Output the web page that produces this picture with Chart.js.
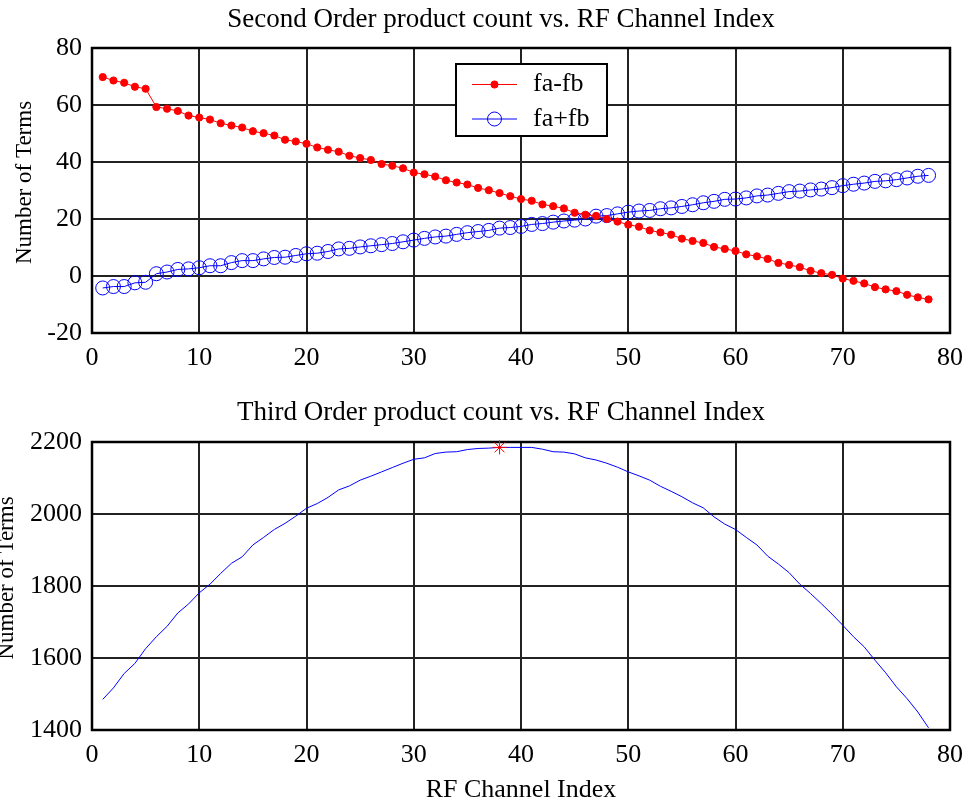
<!DOCTYPE html>
<html>
<head>
<meta charset="utf-8">
<title>Product count vs. RF Channel Index</title>
<script src="https://cdn.jsdelivr.net/npm/chart.js@4.4.1/dist/chart.umd.min.js"></script>
<style>
  html, body { margin: 0; padding: 0; background: #fff; overflow: hidden; }
  #secondOrder { position: absolute; left: 0; top: 0; }
  #thirdOrder { position: absolute; left: 0; top: 375px; }
</style>
</head>
<body>
<canvas id="secondOrder" width="973" height="375"></canvas>
<canvas id="thirdOrder" width="973" height="440"></canvas>
<script>
// DATA
const channels = [
  1, 2, 3, 4, 5, 6, 7, 8, 9, 10, 11, 12, 13, 14, 15, 16, 17, 18, 19, 20,
  21, 22, 23, 24, 25, 26, 27, 28, 29, 30, 31, 32, 33, 34, 35, 36, 37, 38, 39, 40,
  41, 42, 43, 44, 45, 46, 47, 48, 49, 50, 51, 52, 53, 54, 55, 56, 57, 58, 59, 60,
  61, 62, 63, 64, 65, 66, 67, 68, 69, 70, 71, 72, 73, 74, 75, 76, 77, 78
];

// fa-fb
const diffTerms = [
  69.8, 68.6, 67.8, 66.4, 65.7, 59.3, 58.7, 57.9, 56.3, 55.6,
  54.9, 53.6, 52.8, 52.1, 50.8, 50.1, 49.3, 47.8, 47.2, 46.4,
  45.1, 44.3, 43.6, 42.2, 41.4, 40.7, 39.3, 38.7, 37.8, 36.3,
  35.7, 34.9, 33.6, 32.8, 32.1, 30.9, 30.1, 29.1, 28.0, 27.0,
  26.4, 25.1, 24.5, 23.7, 22.2, 21.5, 21.1, 20.0, 19.1, 18.0,
  17.3, 16.0, 15.3, 14.5, 13.1, 12.3, 11.6, 10.2, 9.5, 8.8,
  7.6, 6.9, 6.0, 4.6, 3.9, 3.1, 1.8, 1.0, 0.4, -0.9,
  -1.7, -2.6, -3.9, -4.7, -5.3, -6.6, -7.5, -8.2
];

// fa+fb
const sumTerms = [
  -4.2, -3.7, -3.7, -2.4, -2.2, 0.8, 1.4, 2.3, 2.5, 2.9,
  3.6, 3.6, 4.7, 5.4, 5.4, 6.0, 6.5, 6.6, 7.2, 7.8,
  8.0, 8.6, 9.5, 9.7, 10.2, 10.6, 11.0, 11.4, 12.0, 12.6,
  13.2, 13.7, 14.0, 14.6, 15.2, 15.6, 16.0, 16.8, 17.0, 17.4,
  18.1, 18.4, 18.9, 19.3, 19.6, 20.0, 21.0, 21.2, 21.8, 22.4,
  22.8, 23.0, 23.6, 23.9, 24.4, 25.0, 25.7, 26.2, 26.9, 27.0,
  27.4, 28.1, 28.4, 29.0, 29.6, 29.8, 30.2, 30.5, 31.0, 31.7,
  32.2, 32.6, 33.2, 33.4, 33.8, 34.4, 35.0, 35.3
];

// third order products
const thirdTerms = [
  1485, 1517, 1557, 1585, 1626, 1659, 1688, 1725, 1750, 1781,
  1805, 1835, 1863, 1881, 1914, 1935, 1957, 1974, 1994, 2016,
  2029, 2046, 2067, 2078, 2094, 2105, 2117, 2129, 2141, 2152,
  2156, 2168, 2172, 2173, 2179, 2182, 2183, 2185, 2185, 2185,
  2185, 2180, 2173, 2172, 2167, 2156, 2150, 2141, 2130, 2117,
  2106, 2094, 2077, 2063, 2048, 2031, 2017, 1992, 1972, 1957,
  1935, 1914, 1883, 1861, 1837, 1805, 1779, 1751, 1722, 1691,
  1659, 1631, 1594, 1559, 1520, 1487, 1450, 1406
];

const xTicks = [0, 10, 20, 30, 40, 50, 60, 70, 80];
const secondTicks = [-20, 0, 20, 40, 60, 80];
const thirdTicks = [1400, 1600, 1800, 2000, 2200];

const FONT = "'Liberation Serif', 'Times New Roman', serif";

const toPoints = (vals) => channels.map((c, i) => ({ x: c, y: vals[i] }));
const useTicks = (list) => (scale) => { scale.ticks = list.map(v => ({ value: v })); };

// peak of the third order count
const peakTerms = Math.max(...thirdTerms);
const peakChannel = channels[thirdTerms.indexOf(peakTerms)];

// FRAME round the plot area
const frame = {
  id: 'frame',
  beforeDatasetsDraw(chart) {
    const { ctx, chartArea: a } = chart;
    ctx.save();
    ctx.strokeStyle = '#000';
    ctx.lineWidth = 2.5;
    ctx.strokeRect(a.left, a.top, a.right - a.left, a.bottom - a.top);
    ctx.restore();
  }
};

// HEADING + Y LABEL (placed a little off the plot centre, like the figure export)
const captions = {
  id: 'captions',
  afterDraw(chart, args, opts) {
    const { ctx, chartArea: a } = chart;
    ctx.save();
    ctx.fillStyle = '#000';
    ctx.textAlign = 'center';
    ctx.textBaseline = 'middle';
    ctx.font = '27px ' + FONT;
    ctx.fillText(opts.heading, (a.left + a.right) / 2 - 20, opts.headingY);
    ctx.translate(opts.yLabelX, (a.top + a.bottom) / 2 - 8);
    ctx.rotate(-Math.PI / 2);
    ctx.font = '23px ' + FONT;
    ctx.fillText(opts.yLabel, 0, 0);
    ctx.restore();
  }
};

// BOXED LEGEND
const boxLegend = {
  id: 'boxLegend',
  afterDraw(chart) {
    const { ctx, chartArea: a } = chart;
    const x = a.left + 364, y = a.top + 16, w = 151, h = 72;
    ctx.save();
    ctx.fillStyle = '#fff';
    ctx.fillRect(x, y, w, h);
    ctx.strokeStyle = '#000';
    ctx.lineWidth = 2;
    ctx.strokeRect(x, y, w, h);
    chart.data.datasets.forEach((ds, i) => {
      const cy = y + 20.5 + i * 34.5;
      const mx = x + 38.5;
      ctx.strokeStyle = ds.borderColor;
      ctx.lineWidth = 1;
      ctx.beginPath();
      ctx.moveTo(x + 16, cy);
      ctx.lineTo(x + 61, cy);
      ctx.stroke();
      ctx.beginPath();
      ctx.arc(mx, cy, ds.pointRadius, 0, Math.PI * 2);
      if (ds.pointBackgroundColor !== 'transparent') {
        ctx.fillStyle = ds.pointBackgroundColor;
        ctx.fill();
      }
      ctx.stroke();
      ctx.fillStyle = '#000';
      ctx.font = '26px ' + FONT;
      ctx.textBaseline = 'middle';
      ctx.fillText(ds.label, x + 77, cy);
    });
    ctx.restore();
  }
};

function axes(yTicks, yMin, yMax, xTitle, xHeight) {
  const grid = { color: '#222', lineWidth: 2, drawTicks: false };
  const tickFont = { family: FONT, size: 26 };
  return {
    x: {
      type: 'linear', min: 0, max: 80,
      grid: grid,
      border: { display: false },
      afterBuildTicks: useTicks(xTicks),
      afterFit: (s) => { s.height = xHeight; },
      ticks: { color: '#000', padding: 10, font: tickFont, callback: (v) => String(v) },
      title: {
        display: !!xTitle, text: xTitle || '', color: '#000',
        font: { family: FONT, size: 26 }, padding: { top: 0, bottom: 9 }
      }
    },
    y: {
      type: 'linear', min: yMin, max: yMax,
      grid: grid,
      border: { display: false },
      afterBuildTicks: useTicks(yTicks),
      afterFit: (s) => { s.width = 92; },
      ticks: { color: '#000', padding: 10, font: tickFont, callback: (v) => String(v) }
    }
  };
}

// SECOND ORDER
new Chart(document.getElementById('secondOrder'), {
  type: 'line',
  data: {
    datasets: [
      {
        label: 'fa-fb',
        data: toPoints(diffTerms),
        borderColor: '#ff0000',
        borderWidth: 1,
        pointRadius: 3.6,
        pointBorderWidth: 1,
        pointBackgroundColor: '#ff0000',
        pointBorderColor: '#ff0000'
      },
      {
        label: 'fa+fb',
        data: toPoints(sumTerms),
        borderColor: '#0000ff',
        borderWidth: 1,
        pointRadius: 7,
        pointBorderWidth: 1,
        pointBackgroundColor: 'transparent',
        pointBorderColor: '#0000ff'
      }
    ]
  },
  options: {
    responsive: false,
    animation: false,
    layout: { padding: { left: 0, right: 17, top: 48, bottom: 0 } },
    plugins: {
      legend: { display: false },
      tooltip: { enabled: false },
      captions: {
        heading: 'Second Order product count vs. RF Channel Index',
        headingY: 20,
        yLabel: 'Number of Terms',
        yLabelX: 25
      }
    },
    scales: axes(secondTicks, -20, 80, null, 42)
  },
  plugins: [frame, captions, boxLegend]
});

// THIRD ORDER
new Chart(document.getElementById('thirdOrder'), {
  type: 'line',
  data: {
    datasets: [
      {
        label: 'peak',
        data: [{ x: peakChannel, y: peakTerms }],
        showLine: false,
        clip: false,
        pointStyle: 'star',
        pointRadius: 7,
        pointBorderWidth: 1,
        pointBorderColor: '#ff0000',
        pointBackgroundColor: '#ff0000'
      },
      {
        label: 'third order',
        data: toPoints(thirdTerms),
        borderColor: '#0000ff',
        borderWidth: 1,
        pointRadius: 0
      }
    ]
  },
  options: {
    responsive: false,
    animation: false,
    layout: { padding: { left: 0, right: 17, top: 67, bottom: 0 } },
    plugins: {
      legend: { display: false },
      tooltip: { enabled: false },
      captions: {
        heading: 'Third Order product count vs. RF Channel Index',
        headingY: 38,
        yLabel: 'Number of Terms',
        yLabelX: 7
      }
    },
    scales: axes(thirdTicks, 1400, 2200, 'RF Channel Index', 85)
  },
  plugins: [frame, captions]
});
</script>
</body>
</html>
